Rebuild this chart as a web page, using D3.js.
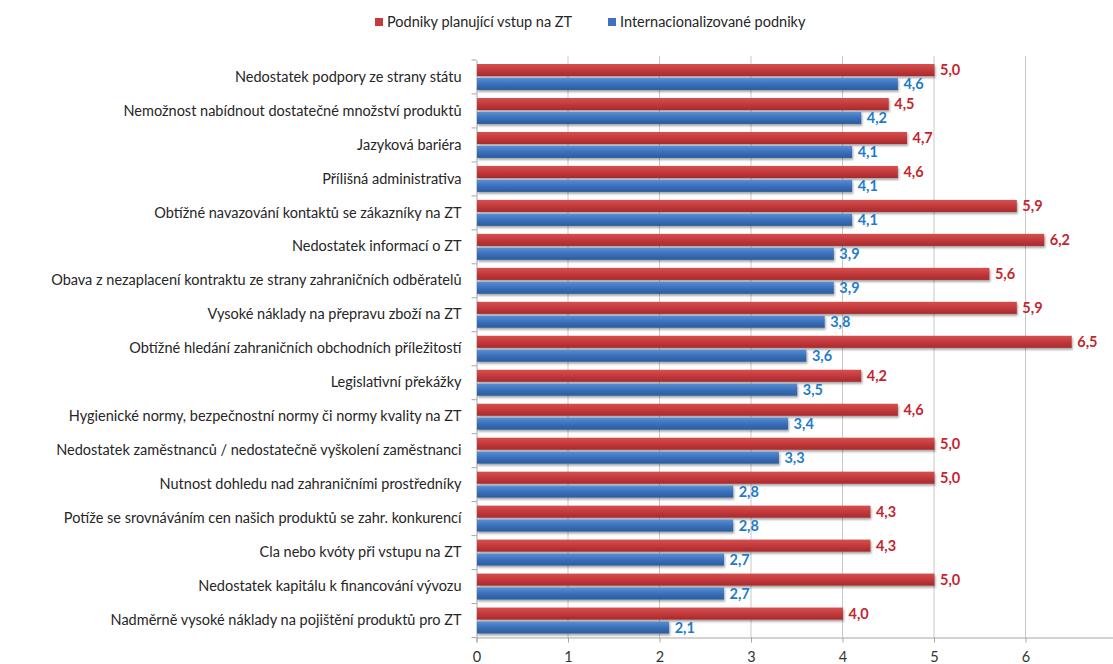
<!DOCTYPE html>
<html>
<head>
<meta charset="utf-8">
<script src="https://cdn.jsdelivr.net/npm/d3@7"></script>
<style>
  html, body { margin: 0; padding: 0; background: #fff; }
  svg { display: block; font-family: Lato, "Open Sans", sans-serif; }
</style>
</head>
<body>
<svg id="chart" width="1113" height="664"></svg>
<script>
// Barriers to entering foreign markets (ZT), average rating per group
const categories = [
  "Nedostatek podpory ze strany státu",
  "Nemožnost nabídnout dostatečné množství produktů",
  "Jazyková bariéra",
  "Přílišná administrativa",
  "Obtížné navazování kontaktů se zákazníky na ZT",
  "Nedostatek informací o ZT",
  "Obava z nezaplacení kontraktu ze strany zahraničních odběratelů",
  "Vysoké náklady na přepravu zboží na ZT",
  "Obtížné hledání zahraničních obchodních příležitostí ",
  "Legislativní překážky",
  "Hygienické normy, bezpečnostní normy či normy kvality na ZT",
  "Nedostatek zaměstnanců / nedostatečně vyškolení zaměstnanci",
  "Nutnost dohledu nad zahraničními prostředníky",
  "Potíže se srovnáváním cen našich produktů se zahr. konkurencí",
  "Cla nebo kvóty při vstupu na ZT",
  "Nedostatek kapitálu k financování vývozu",
  "Nadměrně vysoké náklady na pojištění produktů pro ZT"
];
const planning = [5.0, 4.5, 4.7, 4.6, 5.9, 6.2, 5.6, 5.9, 6.5, 4.2, 4.6, 5.0, 5.0, 4.3, 4.3, 5.0, 4.0];
const internationalised = [4.6, 4.2, 4.1, 4.1, 4.1, 3.9, 3.9, 3.8, 3.6, 3.5, 3.4, 3.3, 2.8, 2.8, 2.7, 2.7, 2.1];
const seriesNames = ["Podniky planující vstup na ZT", "Internacionalizované podniky"];
const xTicks = [0, 1, 2, 3, 4, 5, 6];
const xMax = 7;

const svg = d3.select("#chart");
const margin = { left: 476.5, top: 60, bottom: 637.5, right: 1117 };
const fontSize = 14.5;

const x = d3.scaleLinear().domain([0, xMax]).range([margin.left, margin.right]);
const y = d3.scaleBand().domain(categories).range([margin.top, margin.bottom]);
const inner = d3.scaleBand().domain([0, 1]).range([4, y.bandwidth() - 4]).paddingInner(0.13);

const fmt = v => d3.format(".1f")(v).replace(".", ",");

// gradients and shadow
const defs = svg.append("defs");
const grads = [
  { id: "gRed", stops: ["#d65050", "#c53c3e", "#a8292c"] },
  { id: "gBlue", stops: ["#5a8fd4", "#3d73be", "#2a5b9c"] }
];
grads.forEach(g => {
  const lg = defs.append("linearGradient").attr("id", g.id)
    .attr("x1", 0).attr("y1", 0).attr("x2", 0).attr("y2", 1);
  lg.append("stop").attr("offset", "0%").attr("stop-color", g.stops[0]);
  lg.append("stop").attr("offset", "45%").attr("stop-color", g.stops[1]);
  lg.append("stop").attr("offset", "100%").attr("stop-color", g.stops[2]);
});
defs.append("filter").attr("id", "shadow")
  .attr("x", "-5%").attr("y", "-40%").attr("width", "110%").attr("height", "200%")
  .append("feDropShadow").attr("dx", 1).attr("dy", 2).attr("stdDeviation", 1.2)
  .attr("flood-color", "#000").attr("flood-opacity", 0.35);

// vertical gridlines
svg.append("g")
  .selectAll("line").data(xTicks.filter(t => t > 0).concat([xMax])).join("line")
  .attr("x1", d => x(d)).attr("x2", d => x(d))
  .attr("y1", margin.top - 4).attr("y2", margin.bottom)
  .attr("stroke", "#c8c8c8").attr("stroke-width", 1);

// bottom axis
const xAxis = d3.axisBottom(x).tickValues(xTicks).tickFormat(d => d).tickSize(5).tickPadding(9);
const gx = svg.append("g").attr("transform", `translate(0,${margin.bottom})`).call(xAxis);
gx.select(".domain").attr("stroke", "#a6a6a6");
gx.selectAll(".tick line").attr("stroke", "#a6a6a6");
gx.selectAll(".tick text").attr("font-size", fontSize).attr("fill", "#333").attr("font-family", "Lato, sans-serif");

// left axis (category boundaries get the tick marks)
const gy = svg.append("g").attr("transform", `translate(${margin.left},0)`)
  .call(d3.axisLeft(y).tickSize(0).tickPadding(15));
gy.select(".domain").attr("stroke", "#a6a6a6");
gy.selectAll(".tick text").attr("font-size", fontSize).attr("fill", "#262626").attr("font-family", "Lato, sans-serif");
gy.append("g").selectAll("line")
  .data(categories.map(c => y(c)).concat([y.range()[1]])).join("line")
  .attr("x1", -5).attr("x2", 0).attr("y1", d => d).attr("y2", d => d)
  .attr("stroke", "#a6a6a6");

// bars
const series = [
  { values: planning, fill: "url(#gRed)", label: "#c4262e" },
  { values: internationalised, fill: "url(#gBlue)", label: "#1f7bcc" }
];
series.forEach((s, si) => {
  const g = svg.append("g");
  g.selectAll("rect").data(s.values).join("rect")
    .attr("x", x(0) + 0.5)
    .attr("y", (d, i) => y(categories[i]) + inner(si))
    .attr("width", d => x(d) - x(0))
    .attr("height", inner.bandwidth())
    .attr("fill", s.fill)
    .attr("filter", "url(#shadow)");
  g.selectAll("text").data(s.values).join("text")
    .attr("x", d => x(d) + 6)
    .attr("y", (d, i) => y(categories[i]) + inner(si) + inner.bandwidth() / 2)
    .attr("dy", "0.36em")
    .attr("font-size", fontSize).attr("font-weight", "bold")
    .attr("fill", s.label)
    .text(d => fmt(d));
});

// legend
const legend = svg.append("g").attr("transform", "translate(375,22)");
const legendColors = ["#c53c3e", "#3d73be"];
const items = legend.selectAll("g").data(seriesNames).join("g")
  .attr("transform", (d, i) => `translate(${i * 233},0)`);
items.append("rect").attr("x", 0).attr("y", -4).attr("width", 8).attr("height", 8)
  .attr("fill", (d, i) => legendColors[i]);
items.append("text").attr("x", 12).attr("dy", "0.36em")
  .attr("font-size", fontSize).attr("fill", "#262626").text(d => d);
</script>
</body>
</html>
